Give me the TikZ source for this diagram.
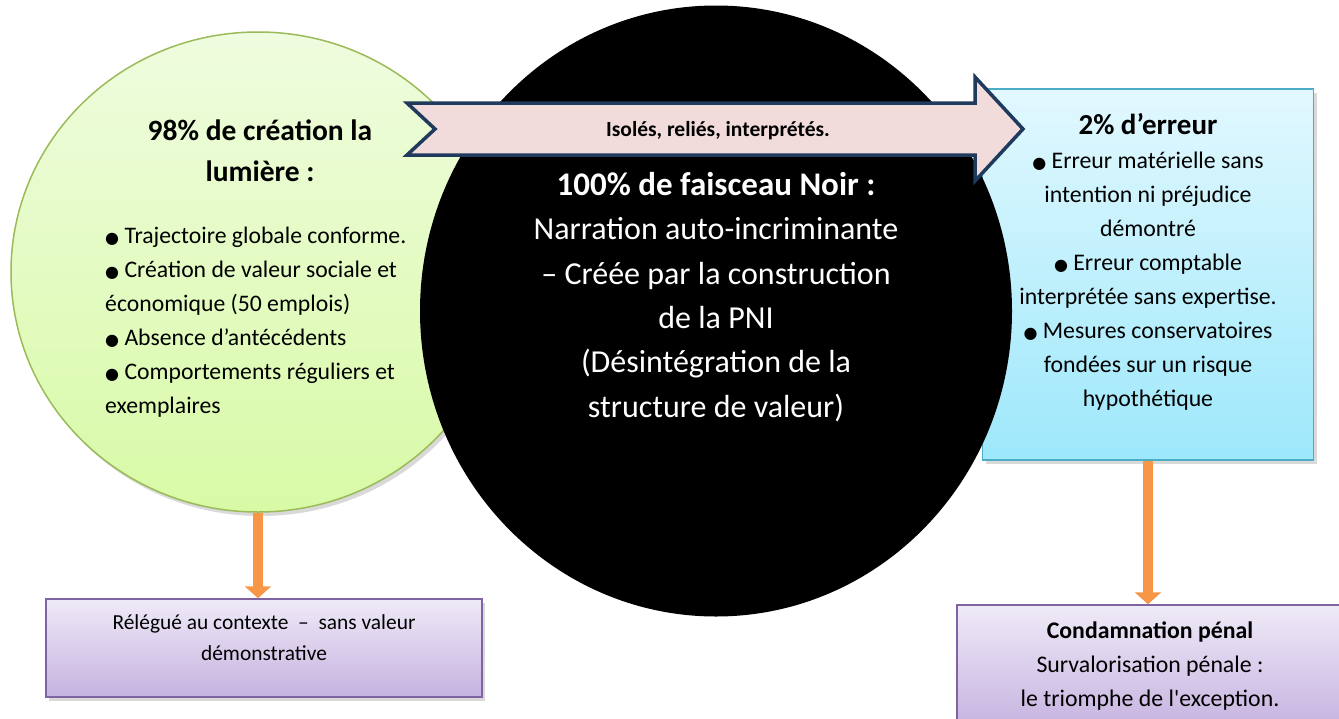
\documentclass[tikz,border=0pt]{standalone}
\usepackage{fontspec}
\setmainfont{Carlito}[Ligatures=TeXOff]
\newfontfamily\dejavu{DejaVu Sans}
\usetikzlibrary{shapes.geometric,shadows,arrows.meta}
\definecolor{greentop}{HTML}{EFFCDF}
\definecolor{greenbot}{HTML}{D8FAA6}
\definecolor{greenline}{HTML}{9BBB59}
\definecolor{bluetop}{HTML}{E2F8FE}
\definecolor{bluebot}{HTML}{9DE8FB}
\definecolor{blueline}{HTML}{4BACC6}
\definecolor{purpletop}{HTML}{EFEAF7}
\definecolor{purplebot}{HTML}{C5B2E0}
\definecolor{purpleline}{HTML}{8064A2}
\definecolor{pinkfill}{HTML}{F2DCDB}
\definecolor{navy}{HTML}{1F3A5C}
\definecolor{orangeline}{HTML}{F79646}
\newcommand\puce{{\dejavu\fontsize{16}{16}\selectfont ●}}
\begin{document}
\begin{tikzpicture}[x=1pt,y=-1pt,
  lumiere/.style={ellipse, draw=greenline, line width=1.5pt,
    top color=greentop, bottom color=greenbot,
    minimum width=494pt, minimum height=480pt,
    drop shadow={shadow xshift=3pt, shadow yshift=-4pt, opacity=.3}},
  noir/.style={ellipse, fill=black, minimum width=592pt, minimum height=611pt},
  erreur/.style={rectangle, draw=blueline, line width=1.5pt,
    top color=bluetop, bottom color=bluebot,
    minimum width=331pt, minimum height=371pt,
    drop shadow={shadow xshift=3pt, shadow yshift=-4pt, opacity=.3}},
  violet/.style={rectangle, draw=purpleline, line width=1.5pt,
    top color=purpletop, bottom color=purplebot,
    drop shadow={shadow xshift=3pt, shadow yshift=-4pt, opacity=.3}},
  bandeau/.style={fill=pinkfill, draw=navy, line width=3.5pt, line join=miter},
  txt/.style={align=center, inner sep=0pt},
  fleche/.style={draw=orangeline, line width=10pt,
    -{Triangle[width=26pt,length=12pt]}}
  ]
	\clip (0,0) rectangle (1339,718);

	% shapes
	\node[lumiere] (lumiere) at (258,272) {};
	\node[erreur] (erreur) at (1148,274.5) {};
	\node[noir] (noir) at (716,311) {};
	\draw[bandeau] (407,103) -- (435,129) -- (407,155) -- (975,155) -- (975,181)
	  -- (1023,129) -- (975,77) -- (975,103) -- cycle;
	\node[violet, minimum width=436pt, minimum height=98pt] (contexte) at (264,648) {};
	\node[violet, minimum width=388pt, minimum height=125pt] (penal) at (1151,667.5) {};

	% texts
	\node[txt, font=\bfseries\fontsize{21.5}{24}\selectfont] (lien) at (718,131)
	  {Isolés, reliés, interprétés.};
	\node[txt, font=\bfseries\fontsize{29.5}{41}\selectfont] (titre) at (260,151)
	  {98\% de création la\\lumière :};
	\node[txt, align=left, anchor=west, font=\fontsize{23.7}{34}\selectfont] (liste) at (105,322)
	  {\puce\ Trajectoire globale conforme.\\
	   \puce\ Création de valeur sociale et\\
	   économique (50 emplois)\\
	   \puce\ Absence d’antécédents\\
	   \puce\ Comportements réguliers et\\
	   exemplaires};
	\node[txt, text=white, font=\fontsize{32}{44.4}\selectfont] (faisceau) at (716,297)
	  {{\bfseries\fontsize{33}{44.4}\selectfont 100\% de faisceau Noir :}\\
	   Narration auto-incriminante\\
	   – Créée par la construction\\
	   de la PNI\\
	   (Désintégration de la\\
	   structure de valeur)};
	\node[txt, font=\fontsize{23.8}{34}\selectfont] (deux) at (1148,262)
	  {{\bfseries\fontsize{29}{30}\selectfont 2\% d’erreur}\\
	   \puce\ Erreur matérielle sans\\
	   intention ni préjudice\\
	   démontré\\
	   \puce\ Erreur comptable\\
	   interprétée sans expertise.\\
	   \puce\ Mesures conservatoires\\
	   fondées sur un risque\\
	   hypothétique};
	\node[txt, font=\fontsize{21.4}{31}\selectfont] (relegue) at (264,638)
	  {Rélégué au contexte \ – \ sans valeur\\démonstrative};
	\node[txt, font=\fontsize{23.8}{34}\selectfont] (condamnation) at (1150,666)
	  {\textbf{Condamnation pénal}\\
	   Survalorisation pénale :\\
	   le triomphe de l'exception.};

	% connectors
	\draw[fleche] (lumiere.south) -- (lumiere.south |- contexte.north);
	\draw[fleche] (erreur.south) -- (erreur.south |- penal.north);
\end{tikzpicture}
\end{document}
